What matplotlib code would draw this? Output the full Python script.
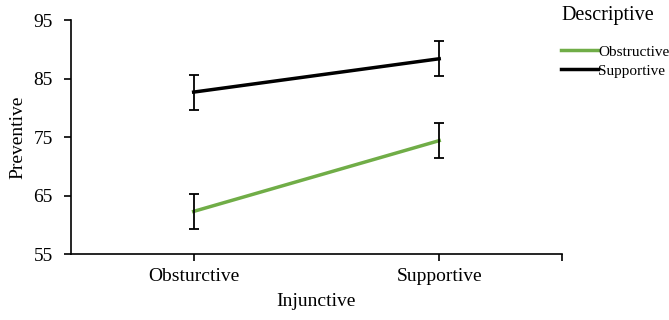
import matplotlib.pyplot as plt

plt.rcParams['font.family'] = ['Liberation Serif', 'DejaVu Serif']

injunctive = ['Obsturctive', 'Supportive']
obstructive = [62.3, 74.4]
obstructive_err = [3.0, 3.0]
supportive = [82.7, 88.4]
supportive_err = [3.0, 3.0]
yticks = [55, 65, 75, 85, 95]

fig = plt.figure(figsize=(6.69, 3.2), dpi=100)
ax = fig.add_axes([0.106, 0.206, 0.734, 0.731])

x = range(len(injunctive))
ax.plot(x, obstructive, color='#70AD47', lw=2.5, label='Obstructive', zorder=3)
ax.plot(x, supportive, color='black', lw=2.5, label='Supportive', zorder=3)
ax.errorbar(x, obstructive, yerr=obstructive_err, fmt='none', ecolor='black',
            elinewidth=1.3, capsize=3.5, capthick=1.3, zorder=4)
ax.errorbar(x, supportive, yerr=supportive_err, fmt='none', ecolor='black',
            elinewidth=1.3, capsize=3.5, capthick=1.3, zorder=4)

ax.set_xlim(-0.5, 1.5)
ax.set_ylim(55, 95)
ax.set_yticks(yticks)
ax.set_xticks(list(x))
ax.set_xticklabels(injunctive)
ax.set_xticks([1.5], minor=True)
ax.tick_params(axis='x', which='minor', length=5, width=1.2)
ax.tick_params(axis='both', which='major', labelsize=14, length=5, width=1.2)
ax.tick_params(axis='y', pad=8)
ax.tick_params(axis='x', pad=5)
for s in ['top', 'right']:
    ax.spines[s].set_visible(False)
for s in ['left', 'bottom']:
    ax.spines[s].set_linewidth(1.2)

ax.set_xlabel('Injunctive', fontsize=14, labelpad=6)
ax.set_ylabel('Preventive', fontsize=14, labelpad=5)

leg = fig.legend(loc='upper left', bbox_to_anchor=(0.839, 0.98), frameon=False,
                 title='Descriptive', title_fontsize=14.5, fontsize=11,
                 handlelength=2.4, handletextpad=0.0, labelspacing=0.35,
                 borderpad=0, borderaxespad=0)
leg._legend_box.align = 'left'
leg._legend_box.sep = 14

fig.savefig('out.png', dpi=100)
